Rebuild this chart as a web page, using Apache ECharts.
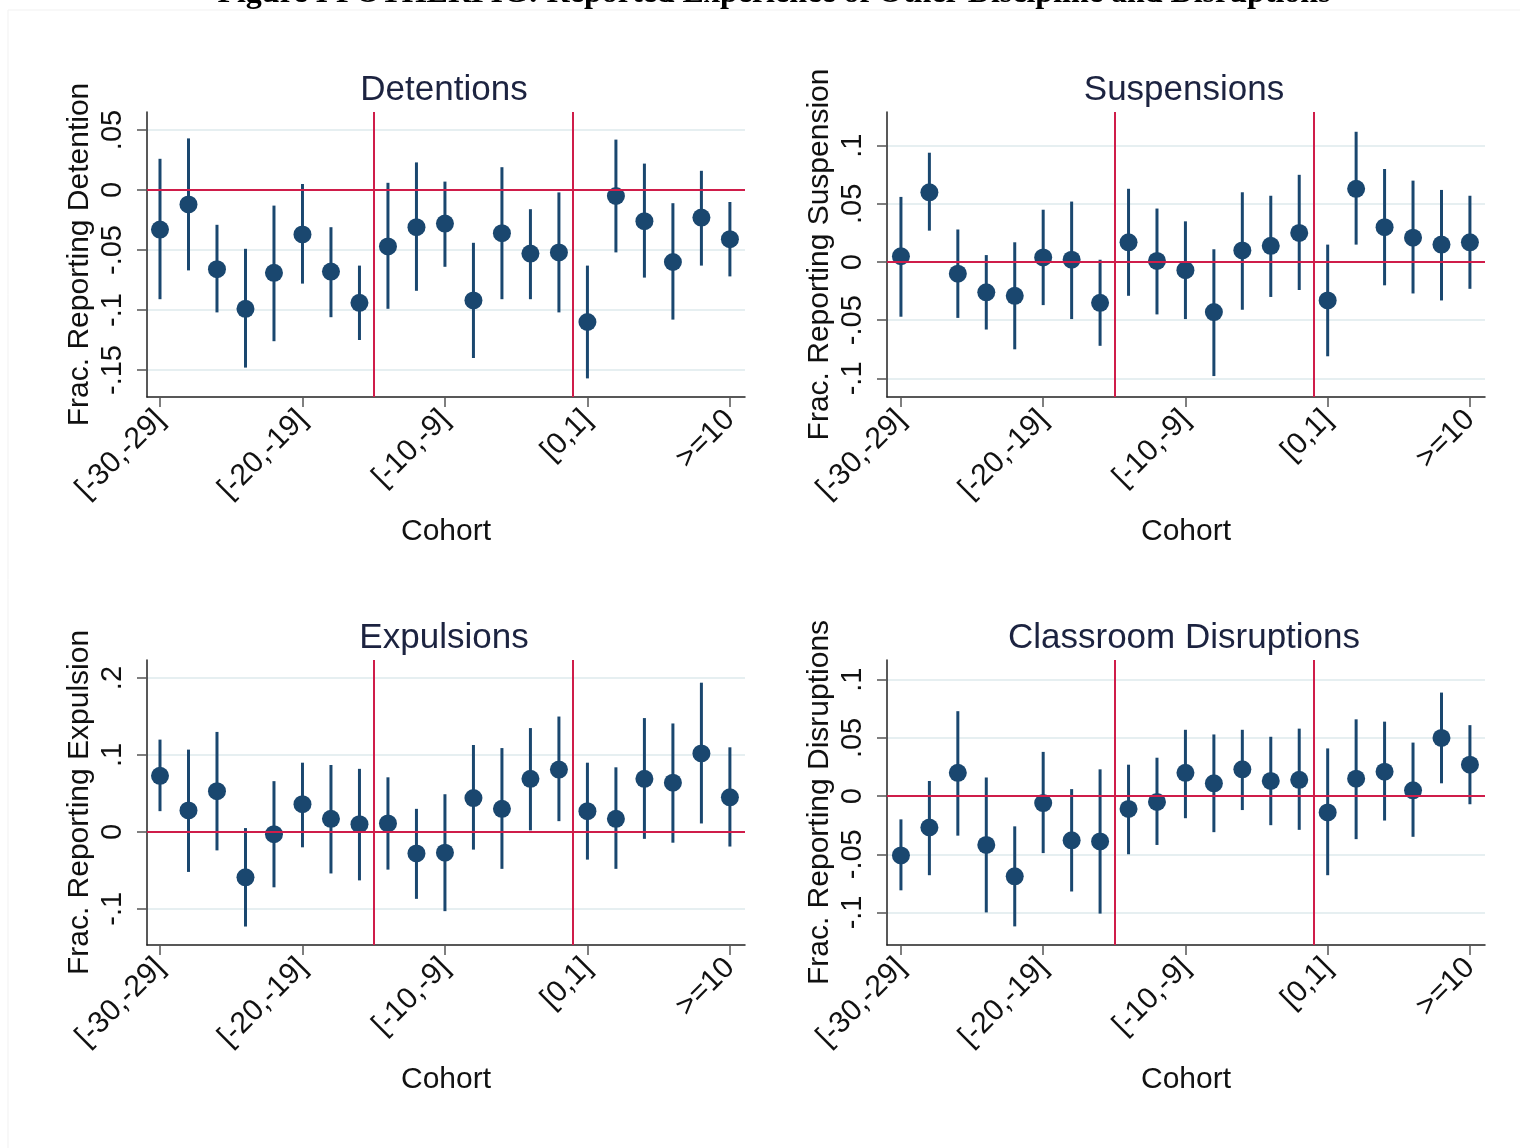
<!DOCTYPE html>
<html><head><meta charset="utf-8">
<script src="https://cdn.jsdelivr.net/npm/echarts@6/dist/echarts.min.js"></script>
<style>html,body{margin:0;padding:0;background:#fff}#c{width:1520px;height:1148px}</style>
</head><body><div id="c"></div>
<script>
// ---------- data ----------
const cohorts = ['[-30,-29]','[-28,-27]','[-26,-25]','[-24,-23]','[-22,-21]','[-20,-19]','[-18,-17]','[-16,-15]','[-14,-13]','[-12,-11]','[-10,-9]','[-8,-7]','[-6,-5]','[-4,-3]','[-2,-1]','[0,1]','[2,3]','[4,5]','[6,7]','[8,9]','>=10'];
const xTickIdx = [0,5,10,15,20];
const cutoffs = [7.5, 14.5];

const detEst = [-0.033,-0.012,-0.066,-0.099,-0.069,-0.037,-0.068,-0.094,-0.047,-0.031,-0.028,-0.092,-0.036,-0.053,-0.052,-0.110,-0.005,-0.026,-0.060,-0.023,-0.041];
const detLo  = [-0.091,-0.067,-0.102,-0.148,-0.126,-0.078,-0.106,-0.125,-0.099,-0.084,-0.064,-0.140,-0.091,-0.091,-0.102,-0.157,-0.052,-0.073,-0.108,-0.063,-0.072];
const detHi  = [0.026,0.043,-0.029,-0.049,-0.013,0.005,-0.031,-0.063,0.006,0.023,0.007,-0.044,0.019,-0.016,-0.002,-0.063,0.042,0.022,-0.011,0.016,-0.010];
const detTicks = [-0.15,-0.1,-0.05,0,0.05];

const susEst = [0.005,0.060,-0.010,-0.026,-0.029,0.004,0.002,-0.035,0.017,0.001,-0.007,-0.043,0.010,0.014,0.025,-0.033,0.063,0.030,0.021,0.015,0.017];
const susLo  = [-0.047,0.027,-0.048,-0.058,-0.075,-0.037,-0.049,-0.072,-0.029,-0.045,-0.049,-0.098,-0.041,-0.030,-0.024,-0.081,0.015,-0.020,-0.027,-0.033,-0.023];
const susHi  = [0.056,0.094,0.028,0.006,0.017,0.045,0.052,0.002,0.063,0.046,0.035,0.011,0.060,0.057,0.075,0.015,0.112,0.080,0.070,0.062,0.057];
const susTicks = [-0.1,-0.05,0,0.05,0.1];

const expEst = [0.073,0.028,0.053,-0.059,-0.003,0.036,0.017,0.010,0.011,-0.028,-0.027,0.044,0.030,0.069,0.081,0.027,0.017,0.069,0.064,0.102,0.045];
const expLo  = [0.027,-0.052,-0.024,-0.123,-0.072,-0.020,-0.054,-0.063,-0.049,-0.087,-0.103,-0.023,-0.048,0.002,0.014,-0.036,-0.048,-0.009,-0.014,0.011,-0.019];
const expHi  = [0.120,0.107,0.130,0.005,0.066,0.090,0.087,0.082,0.071,0.030,0.049,0.113,0.109,0.135,0.150,0.090,0.084,0.148,0.141,0.194,0.110];
const expTicks = [-0.1,0,0.1,0.2];

const disEst = [-0.051,-0.027,0.020,-0.042,-0.069,-0.006,-0.038,-0.039,-0.011,-0.005,0.020,0.011,0.023,0.013,0.014,-0.014,0.015,0.021,0.005,0.050,0.027];
const disLo  = [-0.081,-0.068,-0.034,-0.100,-0.112,-0.049,-0.082,-0.101,-0.050,-0.042,-0.019,-0.031,-0.012,-0.025,-0.029,-0.068,-0.037,-0.021,-0.035,0.011,-0.007];
const disHi  = [-0.020,0.013,0.073,0.016,-0.026,0.038,0.006,0.023,0.027,0.033,0.057,0.053,0.057,0.051,0.058,0.041,0.066,0.064,0.046,0.089,0.061];
const disTicks = [-0.1,-0.05,0,0.05,0.1];

const figTitle = 'Figure I FOTHERFIG: Reported Experience of Other Discipline and Disruptions';

// ---------- styles / layout ----------
const NAVY = '#1a476f';
const RED = '#cf1d4a';
const GRID = '#e6eff1';
const FONT = '"Liberation Sans", Arial, sans-serif';
const TXT = '#111';

const panels = [
  {title:'Detentions', yname:'Frac. Reporting Detention', est:detEst, lo:detLo, hi:detHi, ticks:detTicks, ymin:-0.1725, ymax:0.065, left:147, top:112, xmin:-0.456, xmax:20.53},
  {title:'Suspensions', yname:'Frac. Reporting Suspension', est:susEst, lo:susLo, hi:susHi, ticks:susTicks, ymin:-0.116, ymax:0.129, left:887, top:112, xmin:-0.49, xmax:20.53},
  {title:'Expulsions', yname:'Frac. Reporting Expulsion', est:expEst, lo:expLo, hi:expHi, ticks:expTicks, ymin:-0.147, ymax:0.2235, left:147, top:660, xmin:-0.456, xmax:20.53},
  {title:'Classroom Disruptions', yname:'Frac. Reporting Disruptions', est:disEst, lo:disLo, hi:disHi, ticks:disTicks, ymin:-0.128, ymax:0.117, left:887, top:660, xmin:-0.49, xmax:20.53}
];
const W = 598, H = 285;

function fmt(v){
  if (Math.abs(v) < 1e-9) return '0';
  let s = String(Math.round(v*1000)/1000);
  return s.replace('0.', '.');
}

const grids = [], xAxes = [], yAxes = [], series = [], graphics = [];
panels.forEach((p, k) => {
  grids.push({left:p.left, top:p.top, width:W, height:H, containLabel:false});
  xAxes.push({
    type:'value', gridIndex:k, min:p.xmin, max:p.xmax,
    name:'Cohort', nameLocation:'middle', nameGap:120,
    nameTextStyle:{fontFamily:FONT, fontSize:30, color:TXT},
    axisLine:{show:true, onZero:false, lineStyle:{color:'#222', width:1.5}},
    axisTick:{show:true, length:10, customValues:xTickIdx, lineStyle:{color:'#555', width:1.5}},
    axisLabel:{show:true, customValues:xTickIdx, rotate:45, margin:18, fontFamily:FONT, fontSize:30, color:TXT,
      formatter:(v)=>cohorts[Math.round(v)]},
    splitLine:{show:false}
  });
  yAxes.push({
    type:'value', gridIndex:k, min:p.ymin, max:p.ymax,
    name:p.yname, nameLocation:'middle', nameRotate:90, nameGap:52,
    nameTextStyle:{fontFamily:FONT, fontSize:30, color:TXT},
    axisLine:{show:true, onZero:false, lineStyle:{color:'#222', width:1.5}},
    axisTick:{show:true, length:10, customValues:p.ticks, lineStyle:{color:'#555', width:1.5}},
    axisLabel:{show:true, customValues:p.ticks, rotate:90, margin:20, fontFamily:FONT, fontSize:29, color:TXT,
      formatter:fmt},
    splitLine:{show:true, lineStyle:{color:GRID, width:2}}
  });
  series.push({
    type:'custom', xAxisIndex:k, yAxisIndex:k, z:2,
    data:p.est.map((e,i)=>[i, p.lo[i], p.hi[i]]),
    encode:{x:0, y:[1,2]},
    renderItem:(params, api)=>{
      const x = api.value(0);
      const a = api.coord([x, api.value(1)]);
      const b = api.coord([x, api.value(2)]);
      return {type:'line', shape:{x1:a[0], y1:a[1], x2:b[0], y2:b[1]}, style:{stroke:NAVY, lineWidth:3}};
    },
    markLine:{
      silent:true, symbol:['none','none'], label:{show:false},
      lineStyle:{color:RED, width:2, type:'solid', opacity:1},
      emphasis:{disabled:true},
      data:[{xAxis:cutoffs[0]},{xAxis:cutoffs[1]},{yAxis:0}]
    }
  });
  series.push({
    type:'scatter', xAxisIndex:k, yAxisIndex:k, z:3,
    symbol:'circle', symbolSize:18,
    itemStyle:{color:NAVY, opacity:1},
    data:p.est.map((e,i)=>[i, e])
  });
  graphics.push({
    type:'text', x:p.left + W/2 - 2, y:p.top - 22,
    style:{text:p.title, fontFamily:FONT, fontSize:35, fill:'#1c2340', textAlign:'center', textVerticalAlign:'middle'}
  });
});

graphics.push({type:'rect', shape:{x:8, y:10, width:1540, height:1160}, style:{fill:'none', stroke:'#f1f1f1', lineWidth:1}, z:-1});
graphics.push({
  type:'text', x:774, y:-6,
  style:{text:figTitle, fontFamily:'"Liberation Serif", "Times New Roman", serif', fontWeight:'bold', fontSize:32, fill:'#000', textAlign:'center', textVerticalAlign:'middle'}
});

const chart = echarts.init(document.getElementById('c'));
chart.setOption({
  animation:false,
  backgroundColor:'#fff',
  grid:grids, xAxis:xAxes, yAxis:yAxes, series:series,
  graphic:graphics
});
</script>
</body></html>
